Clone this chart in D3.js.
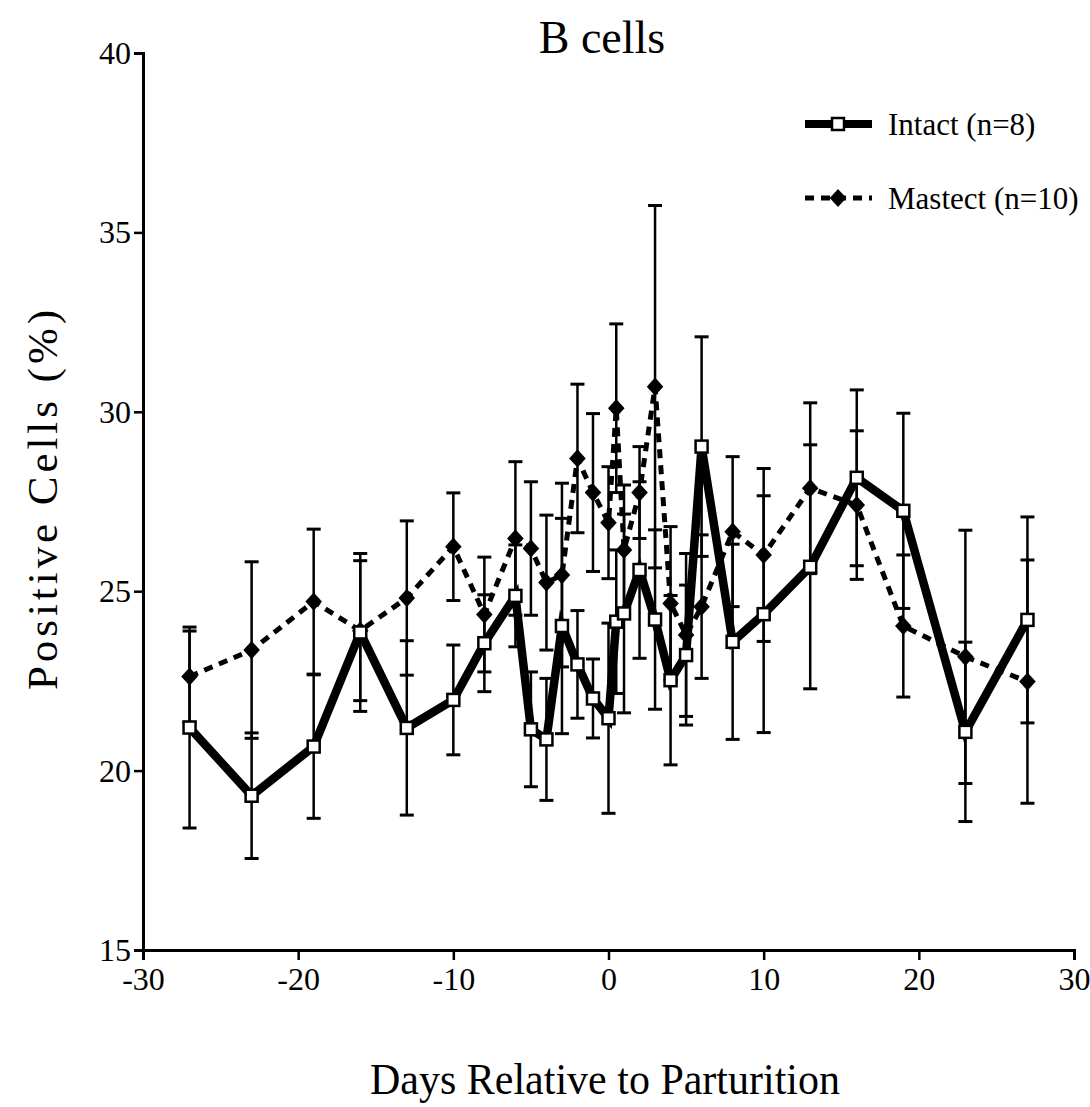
<!DOCTYPE html>
<html>
<head>
<meta charset="utf-8">
<script src="https://cdn.jsdelivr.net/npm/d3@7"></script>
<style>
  html, body { margin: 0; padding: 0; background: #fff; }
  svg text { font-family: "Liberation Serif", "Times New Roman", serif; fill: #000; }
</style>
</head>
<body>
<svg id="chart" width="1090" height="1107"></svg>
<script>
// Sampling days relative to parturition
const days = [-27, -23, -19, -16, -13, -10, -8, -6, -5, -4, -3, -2, -1, 0, 0.5, 1, 2, 3, 4, 5, 6, 8, 10, 13, 16, 19, 23, 27];

// Intact cows (n=8): mean % positive cells and SEM
const intactMean = [21.2, 19.3, 20.67, 23.85, 21.19, 21.97, 23.55, 24.87, 21.15, 20.87, 24.03, 22.96, 22.01, 21.46, 24.15, 24.38, 25.59, 24.21, 22.52, 23.22, 29.03, 23.59, 24.36, 25.68, 28.16, 27.24, 21.08, 24.2];
const intactSem  = [2.8, 1.75, 2.0, 2.2, 2.43, 1.53, 1.35, 1.42, 1.6, 1.7, 3.0, 1.5, 1.1, 2.65, 2.0, 2.77, 2.46, 2.5, 2.36, 1.95, 3.06, 2.72, 3.3, 3.4, 2.45, 2.72, 2.5, 2.87];

// Mastectomized cows (n=10): mean % positive cells and SEM
const mastectMean = [22.62, 23.36, 24.71, 23.9, 24.81, 26.24, 24.35, 26.47, 26.19, 25.24, 25.45, 28.7, 27.75, 26.91, 30.1, 26.15, 27.75, 30.7, 24.66, 23.78, 24.57, 26.66, 26.01, 27.87, 27.4, 24.03, 23.17, 22.48];
const mastectSem  = [1.27, 2.46, 2.02, 1.95, 2.15, 1.5, 1.6, 2.14, 1.86, 1.88, 2.56, 2.07, 2.2, 1.56, 2.35, 1.81, 1.28, 5.05, 2.14, 2.27, 2.0, 2.09, 2.41, 2.38, 2.07, 1.98, 3.53, 3.39];

const xTicks = [-30, -20, -10, 0, 10, 20, 30];
const yTicks = [15, 20, 25, 30, 35, 40];

const titleText = "B cells";
const xLabel = "Days Relative to Parturition";
const yLabel = "Positive Cells (%)";
const seriesNames = ["Intact (n=8)", "Mastect (n=10)"];

const svg = d3.select("#chart");

const x = d3.scaleLinear().domain([-30, 30]).range([143, 1074]);
const y = d3.scaleLinear().domain([15, 40]).range([950, 53]);

const intact = days.map((d, i) => ({ d, m: intactMean[i], s: intactSem[i] }));
const mastect = days.map((d, i) => ({ d, m: mastectMean[i], s: mastectSem[i] }));

// Axes (plain hyphen for negative tick labels)
const plain = d => String(d);
const xAxis = svg.append("g")
  .attr("transform", `translate(0,${y(15)})`)
  .call(d3.axisBottom(x).tickValues(xTicks).tickSize(10).tickPadding(5).tickFormat(plain));
const yAxis = svg.append("g")
  .attr("transform", `translate(${x(-30)},0)`)
  .call(d3.axisLeft(y).tickValues(yTicks).tickSize(9).tickPadding(3).tickFormat(plain));

[xAxis, yAxis].forEach(g => {
  g.select(".domain").attr("stroke", "#000").attr("stroke-width", 3);
  g.selectAll(".tick line").attr("stroke", "#000").attr("stroke-width", 2.5);
  g.selectAll(".tick text")
    .attr("fill", "#000")
    .style("font-family", "'Liberation Serif', serif")
    .style("font-size", "32px");
});
xAxis.selectAll(".tick text").attr("dy", "0.78em");
yAxis.selectAll(".tick text").attr("dy", "0.33em");

// Error bars
function errorBars(data, cls) {
  const g = svg.append("g").attr("class", cls);
  const cap = 7;
  data.forEach(p => {
    const cx = x(p.d), top = y(p.m + p.s), bot = y(p.m - p.s);
    g.append("line").attr("x1", cx).attr("x2", cx).attr("y1", top).attr("y2", bot)
      .attr("stroke", "#000").attr("stroke-width", 2.5);
    [top, bot].forEach(yy => g.append("line")
      .attr("x1", cx - cap).attr("x2", cx + cap).attr("y1", yy).attr("y2", yy)
      .attr("stroke", "#000").attr("stroke-width", 3));
  });
}
errorBars(intact, "err-intact");
errorBars(mastect, "err-mastect");

const line = d3.line().x(p => x(p.d)).y(p => y(p.m));

// Mastect: dashed line with filled diamonds
svg.append("path").datum(mastect)
  .attr("d", line).attr("fill", "none").attr("stroke", "#000")
  .attr("stroke-width", 5).attr("stroke-dasharray", "9,7");

// Intact: heavy solid line with open squares
svg.append("path").datum(intact)
  .attr("d", line).attr("fill", "none").attr("stroke", "#000")
  .attr("stroke-width", 8.5).attr("stroke-linejoin", "miter");

const diamond = d3.symbol().type(d3.symbolDiamond2).size(175);
svg.append("g").selectAll("path").data(mastect).join("path")
  .attr("d", diamond)
  .attr("transform", p => `translate(${x(p.d)},${y(p.m)}) scale(1,1.1)`)
  .attr("fill", "#000");

const sq = 12;
svg.append("g").selectAll("rect").data(intact).join("rect")
  .attr("x", p => x(p.d) - sq / 2).attr("y", p => y(p.m) - sq / 2)
  .attr("width", sq).attr("height", sq)
  .attr("fill", "#fff").attr("stroke", "#000").attr("stroke-width", 2.5);

// Title and axis labels
svg.append("text").attr("x", 602).attr("y", 53).attr("text-anchor", "middle")
  .style("font-size", "46px")
  .text(titleText);

svg.append("text").attr("x", 605).attr("y", 1094).attr("text-anchor", "middle")
  .style("font-size", "44px").attr("textLength", 470).attr("lengthAdjust", "spacingAndGlyphs")
  .text(xLabel);

svg.append("text")
  .attr("transform", "translate(57,500) rotate(-90)")
  .attr("text-anchor", "middle")
  .style("font-size", "43px").attr("textLength", 380).attr("lengthAdjust", "spacing")
  .text(yLabel);

// Legend
const legend = svg.append("g");
const lx0 = 805, lx1 = 872;
const rows = [
  { y: 124, name: seriesNames[0] },
  { y: 198, name: seriesNames[1] }
];
legend.append("line").attr("x1", lx0).attr("x2", lx1).attr("y1", rows[0].y).attr("y2", rows[0].y)
  .attr("stroke", "#000").attr("stroke-width", 8);
legend.append("rect").attr("x", 838 - sq / 2).attr("y", rows[0].y - sq / 2)
  .attr("width", sq).attr("height", sq)
  .attr("fill", "#fff").attr("stroke", "#000").attr("stroke-width", 2.5);
legend.append("line").attr("x1", lx0).attr("x2", lx1).attr("y1", rows[1].y).attr("y2", rows[1].y)
  .attr("stroke", "#000").attr("stroke-width", 5).attr("stroke-dasharray", "9,7");
legend.append("path").attr("d", diamond)
  .attr("transform", `translate(838,${rows[1].y}) scale(1,1.1)`).attr("fill", "#000");
rows.forEach(r => legend.append("text")
  .attr("x", 888).attr("y", r.y + 11)
  .style("font-size", "31px").text(r.name));
</script>
</body>
</html>
